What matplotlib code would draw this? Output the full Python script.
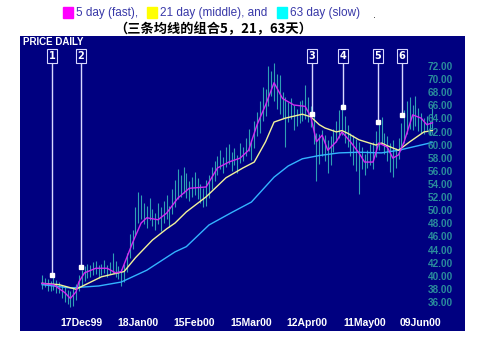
import matplotlib
matplotlib.use("Agg")
import matplotlib.pyplot as plt
import matplotlib.transforms as mtransforms

# daily price bars (high / low), one per trading day
highs = [40.2, 39.8, 39.6, 39.4, 40.0, 39.5, 39.2, 38.8, 38.5, 38.0,
         37.8, 38.4, 38.9, 40.2, 41.0, 41.6, 42.0, 41.8, 42.2, 42.4,
         41.8, 42.0, 42.6, 41.8, 42.2, 43.6, 42.4, 41.6, 41.2, 42.0,
         43.6, 46.6, 47.2, 50.6, 53.0, 52.4, 51.2, 50.8, 52.0, 50.4,
         49.8, 51.2, 50.6, 51.6, 52.4, 50.8, 53.4, 54.8, 56.4, 55.6,
         56.8, 55.8, 54.6, 55.2, 56.0, 55.0, 54.2, 53.6, 54.8, 55.6,
         56.8, 57.6, 58.4, 59.4, 58.2, 59.8, 60.2, 59.0, 59.6, 58.6,
         60.4, 59.8, 61.2, 62.6, 60.8, 63.8, 65.2, 66.8, 69.0, 68.6,
         72.2, 71.4, 72.6, 71.0, 70.8, 68.2, 67.4, 66.6, 67.2, 66.2,
         65.6, 66.8, 67.0, 69.2, 67.4, 66.0, 65.2, 62.0, 61.8, 62.4,
         61.6, 60.8, 61.4, 62.6, 63.8, 65.4, 66.4, 64.6, 63.2, 62.0,
         61.6, 61.0, 60.6, 59.8, 58.8, 59.4, 60.2, 60.6, 62.2, 63.6,
         64.4, 62.0, 61.4, 60.4, 60.8, 59.6, 61.2, 63.4, 65.4, 66.8,
         67.4, 66.2, 67.6, 65.8, 65.0, 64.2, 64.6, 63.8, 65.8]
lows = [38.2, 38.4, 37.8, 37.9, 38.0, 37.6, 37.5, 36.8, 36.2, 35.8,
        35.4, 35.6, 36.5, 37.8, 38.6, 39.4, 39.8, 40.0, 40.2, 40.4,
        39.8, 40.2, 40.6, 40.0, 40.4, 40.6, 40.0, 39.6, 38.6, 39.2,
        40.8, 42.8, 44.2, 46.4, 48.2, 48.8, 48.0, 47.4, 48.6, 47.8,
        47.2, 48.0, 47.0, 48.2, 48.8, 47.6, 49.6, 50.6, 51.8, 52.2,
        52.8, 52.0, 51.6, 52.2, 52.4, 51.8, 51.2, 50.6, 50.8, 52.0,
        53.4, 54.6, 55.6, 56.4, 55.8, 56.8, 57.2, 56.2, 57.0, 55.8,
        57.4, 57.6, 58.4, 59.2, 57.8, 59.6, 61.4, 62.0, 63.8, 64.6,
        66.0, 67.6, 66.8, 65.6, 64.8, 64.2, 59.8, 63.6, 64.0, 62.4,
        63.0, 63.4, 63.8, 64.0, 63.6, 62.8, 60.2, 54.6, 57.2, 58.4,
        57.6, 55.8, 57.0, 59.0, 60.6, 61.2, 61.6, 60.4, 59.8, 58.4,
        57.0, 56.2, 52.6, 56.4, 55.6, 56.6, 57.0, 56.4, 58.2, 59.4,
        60.2, 58.8, 57.6, 56.0, 55.2, 56.6, 58.0, 59.4, 60.4, 61.8,
        62.6, 62.4, 63.0, 62.2, 62.0, 61.8, 62.4, 61.6, 62.6]

# moving averages (day index, price)
fast_x = [0, 4, 8, 10, 12, 13, 15, 19, 23, 26, 28, 32, 35, 37, 41, 44,
          48, 52, 58, 62, 66, 70, 73, 76, 79, 82, 85, 89, 93, 95, 97,
          99, 101, 104, 106, 109, 112, 114, 117, 119, 122, 124, 126,
          128, 131, 134, 136, 138]
fast_y = [39.0, 38.8, 37.6, 36.7, 37.7, 39.2, 40.6, 41.3, 41.3, 40.6,
          40.8, 45.2, 48.2, 49.0, 48.7, 49.7, 52.0, 53.5, 53.7, 56.6,
          57.5, 58.1, 59.3, 63.2, 66.2, 69.6, 67.2, 66.2, 66.0, 64.4,
          60.6, 61.6, 59.3, 60.6, 62.1, 60.6, 58.9, 57.5, 57.5, 60.4,
          59.8, 58.1, 58.6, 60.6, 64.7, 64.2, 63.2, 63.5]
mid_x = [0, 6, 12, 21, 27, 29, 33, 39, 44, 47, 51, 58, 65, 71, 75, 79,
         82, 86, 92, 95, 98, 100, 104, 106, 108, 112, 118, 120, 122,
         126, 130, 135, 138]
mid_y = [39.0, 38.8, 38.1, 40.0, 40.6, 40.8, 42.9, 45.6, 47.3, 48.2,
         49.9, 52.2, 55.1, 56.6, 57.5, 60.6, 63.6, 64.2, 64.8, 64.4,
         63.2, 62.7, 62.1, 62.3, 61.9, 60.9, 60.1, 60.4, 60.0, 59.3,
         60.6, 62.1, 62.3]
slow_x = [0, 10, 20, 28, 37, 47, 51, 59, 67, 74, 82, 87, 92, 98, 105,
          112, 120, 126, 130, 138]
slow_y = [38.8, 38.3, 38.6, 39.2, 41.0, 43.8, 44.6, 47.9, 49.8, 51.4,
          55.2, 56.9, 58.0, 58.5, 58.9, 59.0, 58.9, 59.3, 59.7, 60.5]

# numbered signals: day index and price of the marker dot
signal_names = ["1", "2", "3", "4", "5", "6"]
signal_x = [3.5, 13.8, 95.4, 106.4, 118.7, 127.2]
signal_y = [40.3, 41.5, 64.8, 65.9, 63.6, 64.7]

date_labels = ["17Dec99", "18Jan00", "15Feb00", "15Mar00", "12Apr00", "11May00", "09Jun00"]
date_pos = [13.8, 33.9, 53.7, 73.9, 93.6, 114.1, 133.9]
price_ticks = list(range(36, 73, 2))

navy = "#000080"
fig = plt.figure(figsize=(4.9, 3.44), dpi=100)
ax = fig.add_axes([20 / 490, 13 / 344, 445 / 490, 295 / 344])
ax.set_facecolor(navy)
for s in ax.spines.values():
    s.set_visible(False)
ax.set_xticks([])
ax.set_yticks([])
ax.set_xlim(-7.8, 149.5)
ax.set_ylim(31.73, 76.73)

days = list(range(len(highs)))
ax.vlines(days, lows, highs, color="#2f9fb4", lw=0.8)

ax.plot(slow_x, slow_y, color="#33b4ff", lw=1.0)
ax.plot(mid_x, mid_y, color="#f2f29a", lw=1.0)
ax.plot(fast_x, fast_y, color="#d22cf0", lw=1.0)

for name, sx, sy in zip(signal_names, signal_x, signal_y):
    ax.plot([sx, sx], [sy, 72.6], color="#d8d8ff", lw=1.0)
    ax.plot(sx, sy, marker="s", ms=2.5, color="white")
    ax.text(sx, 73.7, name, color="white", fontsize=7, fontweight="bold",
            ha="center", va="center",
            bbox=dict(boxstyle="square,pad=0.2", fc=navy, ec="#d8d8ff", lw=0.8))

for p in price_ticks:
    ax.text(0.973, p, "%.2f" % p, transform=ax.get_yaxis_transform(),
            ha="right", va="center", color="#2a8c9c", fontsize=7.2,
            fontweight="bold", family="Liberation Sans")

trans = mtransforms.blended_transform_factory(ax.transData, ax.transAxes)
for lab, pos in zip(date_labels, date_pos):
    ax.text(pos, 0.027, lab, transform=trans, ha="center", va="center",
            color="white", fontsize=7.5, fontweight="bold", family="Liberation Sans")

ax.text(0.006, 0.98, "PRICE DAILY", transform=ax.transAxes, ha="left", va="center",
        color="white", fontsize=7, fontweight="bold", family="Liberation Sans")

# legend line above the chart
def px(x, y):
    return x / 490, 1 - y / 344

legend_parts = [("#ff00ff", 63, "5 day (fast),"), ("#ffff00", 147, "21 day (middle), and"),
                ("#00ffff", 277, "63 day (slow)")]
for col, x0, txt in legend_parts:
    fig.patches.append(plt.Rectangle(px(x0, 17.5), 10 / 490, 10 / 344, color=col,
                                     transform=fig.transFigure, figure=fig))
    fig.text(*px(x0 + 13, 13), txt, ha="left", va="center", color="#3838a8",
             fontsize=8.5, family="Liberation Sans")
fig.text(*px(375, 15), ".", ha="center", va="center", color="#333333", fontsize=7)

fig.text(*px(213, 29), "（三条均线的组合5，21，63天）", ha="center", va="center",
         color="black", fontsize=9.5, fontweight="bold",
         family=["Noto Sans CJK SC", "DejaVu Sans"])

fig.savefig("out.png", dpi=100, facecolor="white")
